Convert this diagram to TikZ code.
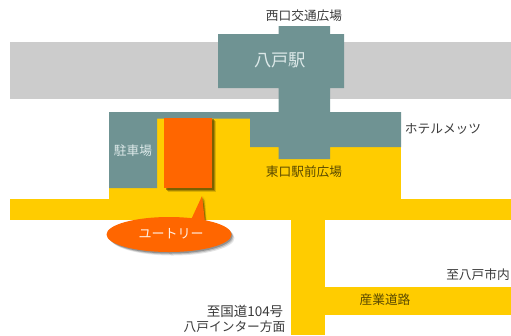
\documentclass[tikz,border=0pt]{standalone}
\usepackage{fontspec}
\setmainfont{Noto Sans CJK JP}
\definecolor{rail}{HTML}{CCCCCC}
\definecolor{teal}{HTML}{6F9393}
\definecolor{road}{HTML}{FFCC00}
\definecolor{bld}{HTML}{FF6600}
\definecolor{ink}{HTML}{3A3A3A}
\definecolor{roadink}{HTML}{5A4A00}
\definecolor{pale}{HTML}{DCE8E8}
\tikzset{
  lbl/.style={inner sep=0pt,text=ink,font=\fontsize{12.7bp}{13bp}\selectfont},
  roadlbl/.style={lbl,text=roadink},
  pale lbl/.style={inner sep=0pt,text=pale,font=\fontsize{12.7bp}{13bp}\selectfont},
  station lbl/.style={inner sep=0pt,text=pale,font=\fontsize{17.3bp}{18bp}\selectfont},
  callout lbl/.style={inner sep=0pt,text=white!90!bld,font=\fontsize{13bp}{14bp}\selectfont}
}
\begin{document}
\begin{tikzpicture}[x=1bp,y=-1bp]
\useasboundingbox (0,0) rectangle (511,335);
% rail band
\fill[rail] (9.5,41.5) rectangle (511,99);
% roads
\fill[road] (9.5,199) rectangle (511,219.5);
\fill[road] (109,118) rectangle (401,199);
\fill[road] (291,219) rectangle (325,335);
\fill[road] (325,286.5) rectangle (511,315);
% station and buildings
\fill[teal] (218,34) -- (278.5,34) -- (278.5,26) -- (330,26) -- (330,34) -- (344,34)
  -- (344,88) -- (330,88) -- (330,112) -- (401,112) -- (401,147) -- (330,147) -- (330,159)
  -- (278.5,159) -- (278.5,147) -- (250,147) -- (250,118.5) -- (157,118.5) -- (157,188)
  -- (109,188) -- (109,112) -- (278.5,112) -- (278.5,88) -- (218,88) -- cycle;
% building with shadow
\foreach \d/\o in {4/.2,3/.35,2/.5}{
  \fill[black!70!road,opacity=\o] (164+\d,118+\d-1) rectangle (211.5+\d,188+\d);
}
\fill[bld] (164,118) rectangle (211.5,188);
% callout shadow
\foreach \d/\o in {3.5/.15,2.5/.25,1.5/.4}{
  \fill[black!70,opacity=\o] (169+\d,234.5+\d) ellipse [x radius=62,y radius=17.5];
  \fill[black!75!road,opacity=\o] (201.5+\d,196+\d-1) -- (205+\d/2,222) -- (194+\d,222) -- cycle;
}
\fill[bld] (202,196) -- (205,222) -- (190,222) -- cycle;
\fill[bld] (169,234.5) ellipse [x radius=62.5,y radius=17.5];
% labels
\node[station lbl] (station) at (280,60.5) {八戸駅};
\node[lbl] (west) at (304,15.5) {西口交通広場};
\node[lbl] (hotel) at (443,129) {ホテルメッツ};
\node[pale lbl] (parking) at (133,151) {駐車場};
\node[roadlbl] (east) at (304,171.5) {東口駅前広場};
\node[callout lbl] (utori) at (171,234) {ユートリー};
\node[lbl] (city) at (478,275) {至八戸市内};
\node[roadlbl] (sangyo) at (385,300) {産業道路};
\node[lbl,font=\fontsize{13.5bp}{14bp}\selectfont] (route) at (245,311) {至国道104号};
\node[lbl] (ic) at (234.5,327) {八戸インター方面};
\end{tikzpicture}
\end{document}
